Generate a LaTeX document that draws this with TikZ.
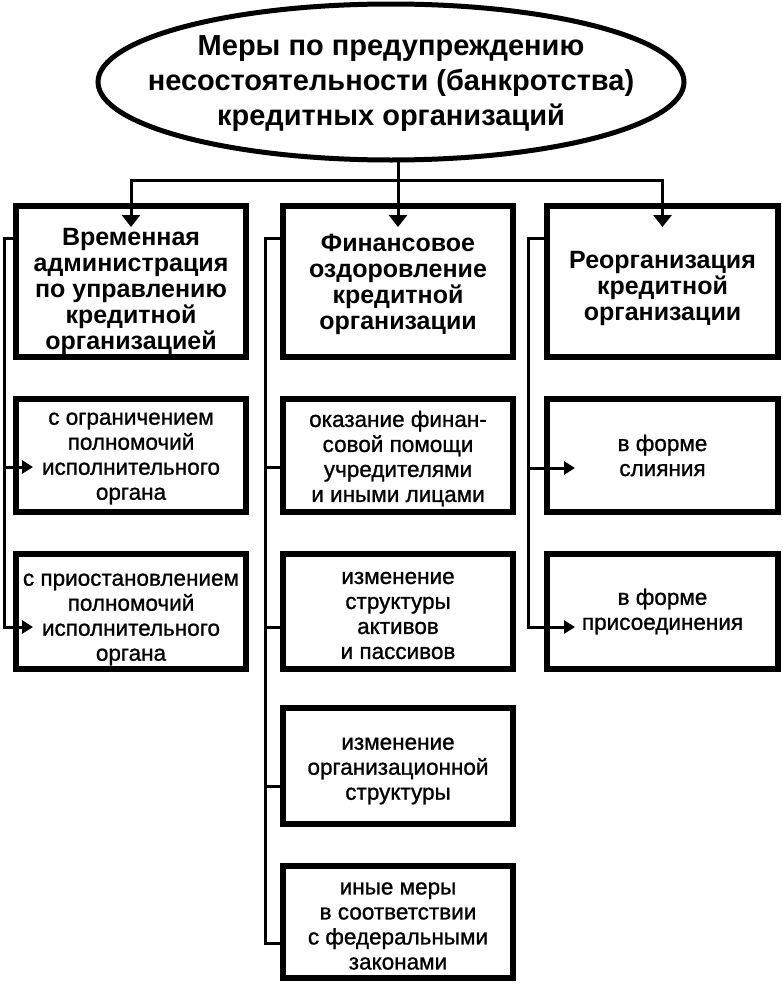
\documentclass[tikz,border=0pt]{standalone}
\usepackage{fontspec}
\setmainfont{Liberation Sans}
\newfontfamily\midfont[FakeBold=1]{Liberation Sans}
\usetikzlibrary{arrows.meta,calc}
\begin{document}
\begin{tikzpicture}[x=1pt,y=-1pt,
  box/.style={draw,line width=6.5pt,inner sep=0pt,outer sep=0pt,minimum width=230pt},
  headtext/.style={align=center,inner sep=0pt,font=\fontsize{25}{26}\selectfont\bfseries},
  subtext/.style={align=center,inner sep=0pt,font=\fontsize{22.5}{25}\selectfont\midfont},
  conn/.style={line width=3pt},
  arr/.style={conn,-{Triangle[length=11pt,width=13pt]}},
  darr/.style={conn,-{Triangle[length=12pt,width=18pt]}}]
\useasboundingbox (0,0) rectangle (783,985);
% central ellipse
\node[align=center,inner sep=0pt,font=\fontsize{29}{35}\selectfont\bfseries] (E) at (391,84) {Меры по предупреждению\\несостоятельности (банкротства)\\кредитных организаций};
\draw[line width=5pt] (E.center) ++(0,-2) ellipse [x radius=293, y radius=78];
\coordinate (Es) at ($(E.center)+(7,76)$);
% first row
\node[box,minimum height=151pt] (A1) at (131,281.5) {};
\node[box,minimum height=151pt] (B1) at (398,281.5) {};
\node[box,minimum height=151pt,minimum width=231pt] (C1) at (662.5,281.5) {};
\node[headtext] (A1t) at ($(A1)+(0,10)$) {Временная\\администрация\\по управлению\\кредитной\\организацией};
\node[headtext] (B1t) at ($(B1)+(0,3)$) {Финансовое\\оздоровление\\кредитной\\организации};
\node[headtext] (C1t) at ($(C1)+(0,7)$) {Реорганизация\\кредитной\\организации};
% second row
\node[box,minimum height=113pt] (A2) at (131,455.5) {};
\node[box,minimum height=113pt] (B2) at (398,455.5) {};
\node[box,minimum height=113pt,minimum width=231pt] (C2) at (662.5,455.5) {};
\node[subtext] (A2t) at ($(A2)+(0,3)$) {с ограничением\\полномочий\\исполнительного\\органа};
\node[subtext] (B2t) at ($(B2)+(0,3)$) {оказание финан-\\совой помощи\\учредителями\\и иными лицами};
\node[subtext] (C2t) at ($(C2)+(0,0)$) {в форме\\слияния};
% third row
\node[box,minimum height=115pt] (A3) at (131,611.5) {};
\node[box,minimum height=115pt] (B3) at (398,611.5) {};
\node[box,minimum height=115pt,minimum width=231pt] (C3) at (662.5,611.5) {};
\node[subtext] (A3t) at ($(A3)+(0,8)$) {с приостановлением\\полномочий\\исполнительного\\органа};
\node[subtext] (B3t) at ($(B3)+(0,4)$) {изменение\\структуры\\активов\\и пассивов};
\node[subtext] (C3t) at ($(C3)+(0,0)$) {в форме\\присоединения};
% fourth and fifth rows
\node[box,minimum height=116pt] (B4) at (398,766) {};
\node[box,minimum height=112pt] (B5) at (398,922) {};
\node[subtext] (B4t) at ($(B4)+(0,5)$) {изменение\\организационной\\структуры};
\node[subtext] (B5t) at ($(B5)+(0,4)$) {иные меры\\в соответствии\\с федеральными\\законами};
% top connectors
\coordinate (H) at (398,180);
\draw[conn] (Es) -- (H);
\draw[darr] (H) -| ($(A1.north)+(0,21)$);
\draw[darr] (H) -- ($(B1.north)+(0,21)$);
\draw[darr] (H) -| ($(C1.north)+(0,21)$);
% left spine
\draw[arr] ($(A1.north west)+(0,32)$) -- ++(-12,0) |- ($(A3.west)+(17,15.5)$);
\draw[arr] ($(A2.west)+(-12,11.5)$) -- ($(A2.west)+(17,11.5)$);
% middle spine
\draw[conn] ($(B1.north west)+(0,32)$) -- ++(-18,0) |- ($(B5.west)+(0,21)$);
\draw[conn] ($(B2.west)+(-18,11.5)$) -- ($(B2.west)+(0,11.5)$);
\draw[conn] ($(B3.west)+(-18,15.5)$) -- ($(B3.west)+(0,15.5)$);
\draw[conn] ($(B4.west)+(-18,20)$) -- ($(B4.west)+(0,20)$);
% right spine
\draw[arr] ($(C1.north west)+(0,32)$) -- ++(-19,0) |- ($(C3.west)+(28,15.5)$);
\draw[arr] ($(C2.west)+(-19,12.5)$) -- ($(C2.west)+(28,12.5)$);
\end{tikzpicture}
\end{document}
